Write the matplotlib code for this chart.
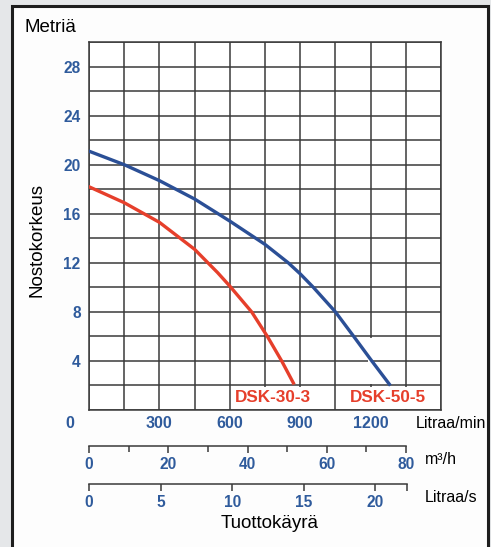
import matplotlib
matplotlib.use("Agg")
import matplotlib.pyplot as plt
from matplotlib.patches import Rectangle
from matplotlib.transforms import ScaledTranslation, blended_transform_factory

plt.rcParams['font.family'] = ['Liberation Sans', 'DejaVu Sans']

# pump curves, flow in l/min, head in m
flow_50 = [0, 150, 300, 450, 600, 750, 849, 900, 956, 1050, 1128, 1205, 1280]
head_50 = [21.1, 20.0, 18.7, 17.2, 15.4, 13.5, 12.0, 11.1, 10.0, 8.0, 6.0,
           4.0, 2.1]
flow_30 = [0, 150, 300, 450, 548, 600, 693, 760, 821, 871]
head_30 = [18.2, 16.9, 15.3, 13.1, 11.2, 10.1, 8.0, 6.0, 4.0, 2.2]

head_ticks = [4, 8, 12, 16, 20, 24, 28]
lmin_ticks = [0, 300, 600, 900, 1200]
m3h_ticks = [0, 20, 40, 60, 80]
m3h_minor = [10, 30, 50, 70]
ls_ticks = [0, 5, 10, 15, 20]

blue = '#2b4f96'
red = '#e63f2b'
tick_blue = '#2f5b9c'
gridc = '#3a3a3a'

W, H = 491, 547
fig = plt.figure(figsize=(W / 100, H / 100), dpi=100)
fig.patch.set_facecolor('#e5e7e9')

def fx(px):
    return px / W

def fy(py):
    return 1 - py / H

# white panel with dark border
panel = Rectangle((fx(12), -0.05), fx(488) - fx(12), fy(6) + 0.05,
                  transform=fig.transFigure, facecolor='#fdfdfd',
                  edgecolor='#1e1e1e', linewidth=2.2, zorder=-5)
fig.patches.append(panel)

ax = fig.add_axes([fx(89), fy(410), fx(441) - fx(89), fy(42) - fy(410)])
ax.set_xlim(0, 1500)
ax.set_ylim(0, 30)
ax.set_facecolor('white')
ax.set_xticks(range(0, 1501, 150))
ax.set_yticks(range(0, 31, 2))
ax.set_yticklabels([str(v) if v in head_ticks else '' for v in range(0, 31, 2)],
                   color=tick_blue, fontweight='bold', fontsize=11.2)
ax.set_xticklabels([])
ax.tick_params(length=0, pad=6)
ax.grid(True, color=gridc, linewidth=1.1)
ax.set_axisbelow(True)
for s in ax.spines.values():
    s.set_color(gridc)
    s.set_linewidth(1.1)

ax.plot(flow_50, head_50, color=blue, linewidth=2.4, zorder=3,
        solid_joinstyle='round')
ax.plot(flow_30, head_30, color=red, linewidth=2.4, zorder=3,
        solid_joinstyle='round')

# white boxes behind curve names in the bottom row
for x0, name, xc in [(600, 'DSK-30-3', 785), (1050, 'DSK-50-5', 1275)]:
    ax.add_patch(Rectangle((x0 + 8, 0.12), 450 - 16, 1.76, facecolor='white',
                           edgecolor='none', zorder=1))
    ax.text(xc, 1.0, name, color=red, fontweight='bold', fontsize=12.3,
            ha='center', va='center', zorder=4)
# gap in the 1200 l/min grid line between 2 and 6 m
ax.add_patch(Rectangle((1190, 2.1), 20, 3.8, facecolor='white',
                       edgecolor='none', zorder=1))

# l/min labels under the grid
tr = blended_transform_factory(ax.transData, fig.transFigure)
for v in lmin_ticks:
    t = tr
    if v == 0:
        t = tr + ScaledTranslation(-0.19, 0, fig.dpi_scale_trans)
    ax.text(v, fy(423), str(v), transform=t, color=tick_blue,
            fontweight='bold', fontsize=11.5, ha='center', va='center')
fig.text(fx(416), fy(423), 'Litraa/min', fontsize=11.5, ha='left', va='center')

# m3/h scale
ax2 = fig.add_axes([fx(89), fy(446), fx(406) - fx(89), 0.0001])
ax2.set_xlim(0, 80)
ax2.set_xticks(m3h_ticks)
ax2.set_xticks(m3h_minor, minor=True)
ax2.set_yticks([])
ax2.patch.set_visible(False)
for k in ['top', 'left', 'right']:
    ax2.spines[k].set_visible(False)
ax2.spines['bottom'].set_color(gridc)
ax2.spines['bottom'].set_linewidth(1.1)
ax2.tick_params(axis='x', which='major', direction='out', length=5, width=1.1,
                color=gridc, pad=3, labelsize=11.2, labelcolor=tick_blue)
ax2.tick_params(axis='x', which='minor', direction='out', length=4, width=1.1,
                color=gridc)
for lab in ax2.get_xticklabels():
    lab.set_fontweight('bold')
fig.text(fx(425), fy(459), 'm³/h', fontsize=11.5, ha='left', va='center')

# l/s scale
ax3 = fig.add_axes([fx(89), fy(484), fx(407) - fx(89), 0.0001])
ax3.set_xlim(0, 22.2)
ax3.set_xticks(ls_ticks + [22.2])
ax3.set_xticklabels([str(v) for v in ls_ticks] + [''])
ax3.set_yticks([])
ax3.patch.set_visible(False)
for k in ['top', 'left', 'right']:
    ax3.spines[k].set_visible(False)
ax3.spines['bottom'].set_color(gridc)
ax3.spines['bottom'].set_linewidth(1.1)
ax3.tick_params(axis='x', direction='out', length=5, width=1.1, color=gridc,
                pad=3, labelsize=11.2, labelcolor=tick_blue)
for lab in ax3.get_xticklabels():
    lab.set_fontweight('bold')
fig.text(fx(425), fy(497), 'Litraa/s', fontsize=11.5, ha='left', va='center')

fig.text(fx(270), fy(524), 'Tuottokäyrä', fontsize=13.5, ha='center', va='center')
fig.text(fx(25), fy(27), 'Metriä', fontsize=13.5, ha='left', va='center')
fig.text(fx(37), fy(240), 'Nostokorkeus', fontsize=13.5, rotation=90,
         ha='center', va='center')

fig.savefig('out.png', dpi=100, facecolor=fig.get_facecolor())
